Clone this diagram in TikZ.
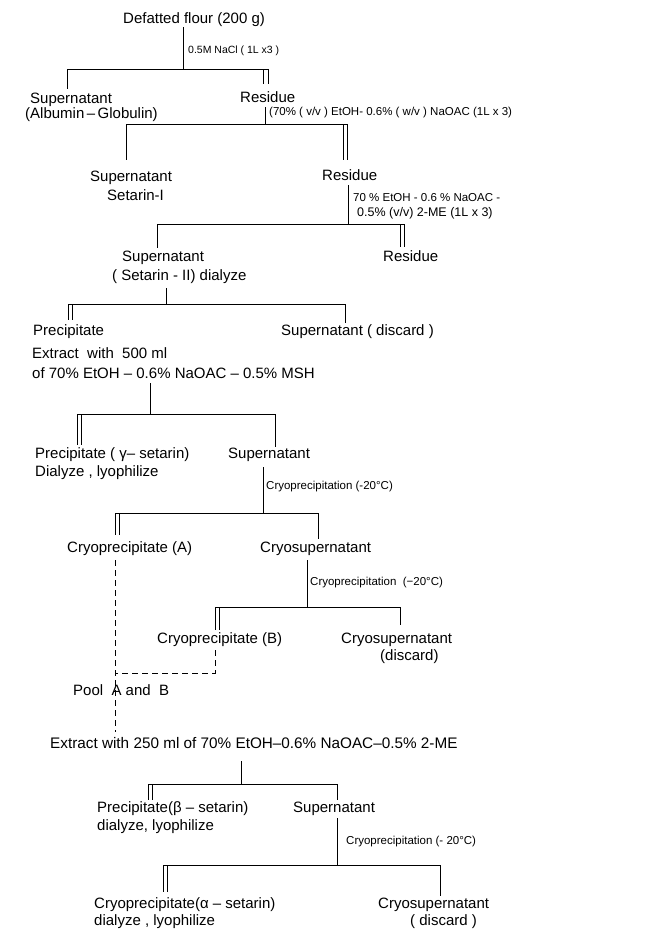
\documentclass[tikz,border=0pt]{standalone}
\usepackage{fontspec}
\setmainfont{Liberation Sans}
\begin{document}
\begin{tikzpicture}[x=1pt,y=1pt,
  every node/.style={inner sep=0pt, anchor=west},
  mn/.style={font=\fontsize{15}{18}\selectfont, text height=10.8pt, text depth=3.2pt},
  lab/.style={font=\fontsize{11.5}{14}\selectfont, text height=8.3pt, text depth=2.4pt},
  big/.style={font=\fontsize{15.3}{18}\selectfont, text height=11pt, text depth=3.4pt},
  ln/.style={line width=0.9pt},
  dl/.style={line width=0.9pt, dash pattern=on 6pt off 4pt},
]
\useasboundingbox[fill=white] (0,0) rectangle (656,-930);

% ---------------- nodes ----------------
\node[mn] (t0) at (123,-20) {Defatted flour (200 g)};
\node[lab, font=\fontsize{10.5}{12}\selectfont] (l1) at (188,-51) {0.5M NaCl ( 1L x3 )};
\node[mn] (s1a) at (30,-100) {Supernatant};
\node[mn] (s1b) at (25,-115) {(Albumin\,–\,Globulin)};
\node[mn] (r1) at (240,-99) {Residue};
\node[lab] (l2) at (269,-113) {(70\% ( v/v ) EtOH- 0.6\% ( w/v ) NaOAC (1L x 3)};
\node[mn] (s2a) at (90,-178) {Supernatant};
\node[mn] (s2b) at (107,-197) {Setarin-I};
\node[mn] (r2) at (322,-177) {Residue};
\node[lab] (l3a) at (353,-199) {70 \% EtOH - 0.6 \% NaOAC -};
\node[lab, font=\fontsize{12.5}{14}\selectfont] (l3b) at (357,-214) {0.5\% (v/v) 2-ME (1L x 3)};
\node[mn] (s3a) at (122,-258) {Supernatant};
\node[mn] (s3b) at (112,-277) {( Setarin - II) dialyze};
\node[mn] (r3) at (383,-258) {Residue};
\node[mn] (p4) at (33,-332) {Precipitate};
\node[mn] (s4) at (281,-332) {Supernatant ( discard )};
\node[mn] (e4a) at (32,-355) {Extract \ with \ 500 ml};
\node[mn] (e4b) at (32,-375) {of 70\% EtOH – 0.6\% NaOAC – 0.5\% MSH};
\node[mn] (p5a) at (35,-455) {Precipitate ( γ– setarin)};
\node[mn] (p5b) at (35,-473) {Dialyze , lyophilize};
\node[mn] (s5) at (228,-455) {Supernatant};
\node[lab] (l5) at (266,-487) {Cryoprecipitation (-20°C)};
\node[mn] (cA) at (67,-549) {Cryoprecipitate (A)};
\node[mn] (cs6) at (260,-549) {Cryosupernatant};
\node[lab] (l6) at (310,-583) {Cryoprecipitation \ (−20°C)};
\node[mn] (cB) at (157,-640) {Cryoprecipitate (B)};
\node[mn] (cs7a) at (341,-640) {Cryosupernatant};
\node[mn] (cs7b) at (380,-657) {(discard)};
\node[mn] (pool) at (73,-692) {Pool \ A and \ B};
\node[big] (ex) at (50,-745) {Extract with 250 ml of 70\% EtOH–0.6\% NaOAC–0.5\% 2-ME};
\node[mn] (p8a) at (97,-809) {Precipitate(β – setarin)};
\node[mn] (p8b) at (97,-827) {dialyze, lyophilize};
\node[mn] (s8) at (293,-809) {Supernatant};
\node[lab] (l8) at (346,-842) {Cryoprecipitation (- 20°C)};
\node[mn] (c9a) at (94,-905) {Cryoprecipitate(α – setarin)};
\node[mn] (c9b) at (94,-922) {dialyze , lyophilize};
\node[mn] (cs9a) at (378,-905) {Cryosupernatant};
\node[mn] (cs9b) at (410,-922) {( discard )};

% ---------------- split 1 ----------------
\coordinate (b1) at (183,-69);
\coordinate (b1l) at (67,-69);
\coordinate (b1r) at (268,-69);
\coordinate (b1r2) at (263,-69);
\draw[ln] (b1 |- t0.south) -- (b1);
\draw[ln] (b1l) -- (b1r);
\draw[ln, shorten >=4pt] (b1l) -- (b1l |- s1a.north);
\draw[ln, shorten >=8pt] (b1r) -- (b1r |- r1.north);
\draw[ln, shorten >=8pt] (b1r2) -- (b1r2 |- r1.north);

% ---------------- split 2 ----------------
\coordinate (b2) at (265,-124);
\coordinate (b2l) at (126,-124);
\coordinate (b2r) at (347,-124);
\coordinate (b2r2) at (343,-124);
\draw[ln, shorten <=1pt] (b2 |- r1.south) -- (b2);
\draw[ln] (b2l) -- (b2r);
\draw[ln, shorten >=11pt] (b2l) -- (b2l |- s2a.north);
\draw[ln, shorten >=10pt] (b2r) -- (b2r |- r2.north);
\draw[ln, shorten >=10pt] (b2r2) -- (b2r2 |- r2.north);

% ---------------- split 3 ----------------
\coordinate (b3) at (348,-224);
\coordinate (b3l) at (157,-224);
\coordinate (b3r) at (404,-224);
\coordinate (b3r2) at (400,-224);
\draw[ln, shorten <=1pt] (b3 |- r2.south) -- (b3);
\draw[ln] (b3l) -- (b3r);
\draw[ln, shorten >=3pt] (b3l) -- (b3l |- s3a.north);
\draw[ln, shorten >=4pt] (b3r) -- (b3r |- r3.north);
\draw[ln, shorten >=4pt] (b3r2) -- (b3r2 |- r3.north);

% ---------------- split 4 ----------------
\coordinate (b4) at (166,-304);
\coordinate (b4l) at (68,-304);
\coordinate (b4l2) at (72,-304);
\coordinate (b4r) at (345,-304);
\draw[ln, shorten <=4pt] (b4 |- s3b.south) -- (b4);
\draw[ln] (b4l) -- (b4r);
\draw[ln, shorten >=5pt] (b4l) -- (b4l |- p4.north);
\draw[ln, shorten >=5pt] (b4l2) -- (b4l2 |- p4.north);
\draw[ln, shorten >=2pt] (b4r) -- (b4r |- s4.north);

% ---------------- split 5 ----------------
\coordinate (b5) at (150,-414);
\coordinate (b5l) at (77,-414);
\coordinate (b5l2) at (81,-414);
\coordinate (b5r) at (275,-414);
\draw[ln, shorten <=1pt] (b5 |- e4b.south) -- (b5);
\draw[ln] (b5l) -- (b5r);
\draw[ln, shorten >=3pt] (b5l) -- (b5l |- p5a.north);
\draw[ln, shorten >=3pt] (b5l2) -- (b5l2 |- p5a.north);
\draw[ln, shorten >=1pt] (b5r) -- (b5r |- s5.north);

% ---------------- split 6 ----------------
\coordinate (b6) at (263,-513);
\coordinate (b6l) at (115,-513);
\coordinate (b6l2) at (119,-513);
\coordinate (b6r) at (318,-513);
\draw[ln, shorten <=5pt] (b6 |- s5.south) -- (b6);
\draw[ln] (b6l) -- (b6r);
\draw[ln, shorten >=7pt] (b6l) -- (b6l |- cA.north);
\draw[ln, shorten >=7pt] (b6l2) -- (b6l2 |- cA.north);
\draw[ln, shorten >=3pt] (b6r) -- (b6r |- cs6.north);

% ---------------- split 7 ----------------
\coordinate (b7) at (307,-607);
\coordinate (b7l) at (215,-607);
\coordinate (b7l2) at (219,-607);
\coordinate (b7r) at (400,-607);
\draw[ln, shorten <=4pt] (b7 |- cs6.south) -- (b7);
\draw[ln] (b7l) -- (b7r);
\draw[ln, shorten >=3pt] (b7l) -- (b7l |- cB.north);
\draw[ln, shorten >=3pt] (b7l2) -- (b7l2 |- cB.north);
\draw[ln, shorten >=8pt] (b7r) -- (b7r |- cs7a.north);

% ---------------- pooling (dashed) ----------------
\coordinate (dA) at (115,-673);
\coordinate (dB) at (215,-673);
\draw[dl, shorten <=4pt, shorten >=6pt] (dA |- cA.south) -- (dA |- ex.north);
\draw[dl, shorten <=3pt] (dB |- cB.south) -- (dB) -- (dA);

% ---------------- split 8 ----------------
\coordinate (b8) at (241,-784);
\coordinate (b8l) at (148,-784);
\coordinate (b8l2) at (152,-784);
\coordinate (b8r) at (337,-784);
\draw[ln, shorten <=9pt] (b8 |- ex.south) -- (b8);
\draw[ln] (b8l) -- (b8r);
\draw[ln, shorten >=2pt] (b8l) -- (b8l |- p8a.north);
\draw[ln, shorten >=2pt] (b8l2) -- (b8l2 |- p8a.north);
\draw[ln, shorten >=2pt] (b8r) -- (b8r |- s8.north);

% ---------------- split 9 ----------------
\coordinate (b9) at (337,-865);
\coordinate (b9l) at (163,-865);
\coordinate (b9l2) at (167,-865);
\coordinate (b9r) at (440,-865);
\draw[ln, shorten <=2pt] (b9 |- s8.south) -- (b9);
\draw[ln] (b9l) -- (b9r);
\draw[ln, shorten >=6pt] (b9l) -- (b9l |- c9a.north);
\draw[ln, shorten >=6pt] (b9l2) -- (b9l2 |- c9a.north);
\draw[ln, shorten >=2pt] (b9r) -- (b9r |- cs9a.north);
\end{tikzpicture}
\end{document}
